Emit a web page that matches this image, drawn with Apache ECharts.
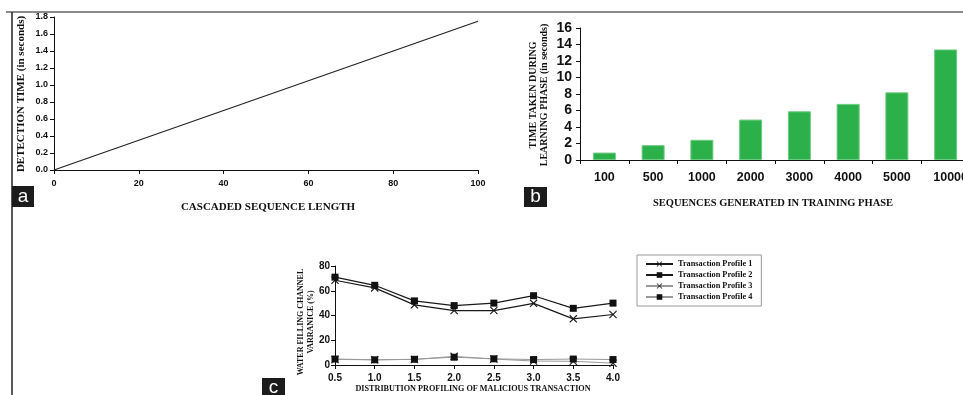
<!DOCTYPE html>
<html>
<head>
<meta charset="utf-8">
<script src="https://cdn.jsdelivr.net/npm/echarts@6/dist/echarts.min.js"></script>
<style>
html,body{margin:0;padding:0;background:#fff;}
#chart{width:963px;height:395px;}
</style>
</head>
<body>
<div id="chart"></div>
<script>
// Panel a: detection time vs cascaded sequence length
const aX = [0, 100];
const aY = [0, 1.75];
// Panel b: learning time
const bCategories = ['100', '500', '1000', '2000', '3000', '4000', '5000', '10000'];
const bValues = [0.9, 1.8, 2.45, 4.9, 5.9, 6.8, 8.2, 13.4];
// Panel c: water filling channel variance
const cX = [0.5, 1.0, 1.5, 2.0, 2.5, 3.0, 3.5, 4.0];
const cP1 = [68.5, 62.3, 48.6, 44.0, 44.0, 49.8, 37.3, 40.8];
const cP2 = [71.0, 64.4, 51.8, 48.0, 50.0, 56.0, 45.8, 50.0];
const cP3 = [4.5, 4.2, 4.5, 7.0, 4.8, 3.2, 3.0, 1.5];
const cP4 = [4.8, 4.2, 4.6, 6.3, 5.0, 4.4, 4.8, 4.4];
const cNames = ['Transaction Profile 1', 'Transaction Profile 2', 'Transaction Profile 3', 'Transaction Profile 4'];

const SANS = 'Liberation Sans';
const SERIF = 'Liberation Serif';
const XPATH = 'path://M0,1L1,0L5,4L9,0L10,1L6,5L10,9L9,10L5,6L1,10L0,9L4,5Z';

function zip(xs, ys){ return xs.map((x,i)=>[x, ys[i]]); }

function axisCommon(fontSize, margin){
  return {
    axisLine:{show:true, lineStyle:{color:'#111', width:1}},
    axisTick:{show:true, inside:false, length:4, lineStyle:{color:'#111', width:1}},
    axisLabel:{color:'#111', fontFamily:SANS, fontWeight:'bold', fontSize:fontSize, margin:margin},
    splitLine:{show:false}
  };
}
function fixed1(ax){ ax.axisLabel.formatter = v => Number(v).toFixed(1); return ax; }

const chart = echarts.init(document.getElementById('chart'), null, {renderer:'canvas'});

const bX = Object.assign(axisCommon(12.5, 11), {type:'category', gridIndex:1, data:bCategories,
  axisTick:{show:true, alignWithLabel:false, interval:0, length:4, lineStyle:{color:'#111'}}});
bX.axisLabel.interval = 0;
bX.axisLabel.hideOverlap = false;
bX.axisLabel.formatter = (v, i) => i === bCategories.length - 1 ? '{last|' + v + '}' : v;
bX.axisLabel.rich = {last:{fontFamily:SANS, fontWeight:'bold', fontSize:12.5, color:'#111', padding:[0,0,0,10]}};

const option = {
  animation:false,
  backgroundColor:'#ffffff',
  grid:[
    {left:54, top:17, width:424, height:153, containLabel:false, outerBoundsMode:'none'},
    {left:580, top:28, width:390, height:132, containLabel:false, outerBoundsMode:'none'},
    {left:335, top:266, width:278, height:99, containLabel:false, outerBoundsMode:'none'}
  ],
  xAxis:[
    Object.assign(axisCommon(9, 9), {type:'value', gridIndex:0, min:0, max:100, interval:20}),
    bX,
    fixed1(Object.assign(axisCommon(10, 8), {type:'value', gridIndex:2, min:0.5, max:4.0, interval:0.5}))
  ],
  yAxis:[
    fixed1(Object.assign(axisCommon(9, 6), {type:'value', gridIndex:0, min:0, max:1.8, interval:0.2})),
    Object.assign(axisCommon(14, 8), {type:'value', gridIndex:1, min:0, max:16, interval:2}),
    Object.assign(axisCommon(10, 5), {type:'value', gridIndex:2, min:0, max:80, interval:20})
  ],
  legend:{
    show:true,
    data:cNames,
    orient:'vertical',
    left:637, top:255,
    padding:[5,9,5,8],
    itemWidth:27, itemHeight:7, itemGap:3,
    borderColor:'#999', borderWidth:1,
    textStyle:{fontFamily:SERIF, fontWeight:'bold', fontSize:8.3, color:'#111'}
  },
  series:[
    {type:'line', xAxisIndex:0, yAxisIndex:0, data:zip(aX, aY), symbol:'none',
      lineStyle:{color:'#222', width:1.2}},
    {type:'bar', xAxisIndex:1, yAxisIndex:1, data:bValues, barWidth:23,
      itemStyle:{color:'#2bb04a', borderColor:'#6fcb82', borderWidth:1}},
    {name:cNames[0], type:'line', xAxisIndex:2, yAxisIndex:2, data:zip(cX, cP1),
      symbol:XPATH, symbolSize:8, color:'#1a1a1a',
      lineStyle:{color:'#1a1a1a', width:1.2}, itemStyle:{color:'#1a1a1a'}},
    {name:cNames[1], type:'line', xAxisIndex:2, yAxisIndex:2, data:zip(cX, cP2),
      symbol:'rect', symbolSize:7, color:'#1a1a1a',
      lineStyle:{color:'#1a1a1a', width:1.2}, itemStyle:{color:'#111'}},
    {name:cNames[2], type:'line', xAxisIndex:2, yAxisIndex:2, data:zip(cX, cP3),
      symbol:XPATH, symbolSize:8, color:'#222',
      lineStyle:{color:'#999', width:1}, itemStyle:{color:'#222'}},
    {name:cNames[3], type:'line', xAxisIndex:2, yAxisIndex:2, data:zip(cX, cP4),
      symbol:'rect', symbolSize:7, color:'#111',
      lineStyle:{color:'#999', width:1}, itemStyle:{color:'#111'}}
  ],
  graphic:[
    // frame lines
    {type:'line', shape:{x1:6, y1:12, x2:963, y2:12}, style:{stroke:'#8a8a8a', lineWidth:2}, silent:true},
    {type:'line', shape:{x1:12, y1:12, x2:12, y2:395}, style:{stroke:'#222', lineWidth:1.5}, silent:true},
    // panel labels
    {type:'rect', shape:{x:12, y:186, width:22, height:21}, style:{fill:'#1c1c1c'}},
    {type:'text', x:23, y:196.5, style:{text:'a', fill:'#fff', font:'19px ' + SANS, textAlign:'center', textVerticalAlign:'middle'}},
    {type:'rect', shape:{x:524, y:187, width:23, height:20}, style:{fill:'#1c1c1c'}},
    {type:'text', x:535.5, y:196.5, style:{text:'b', fill:'#fff', font:'19px ' + SANS, textAlign:'center', textVerticalAlign:'middle'}},
    {type:'rect', shape:{x:262, y:378, width:23, height:20}, style:{fill:'#1c1c1c'}},
    {type:'text', x:273.5, y:388, style:{text:'c', fill:'#fff', font:'19px ' + SANS, textAlign:'center', textVerticalAlign:'middle'}},
    // axis titles panel a
    {type:'text', x:268, y:207, style:{text:'CASCADED SEQUENCE LENGTH', fill:'#111', font:'bold 11px ' + SERIF, textAlign:'center', textVerticalAlign:'middle'}},
    {type:'text', x:21, y:94, rotation:Math.PI/2, style:{text:'DETECTION TIME (in seconds)', fill:'#111', font:'bold 11px ' + SERIF, textAlign:'center', textVerticalAlign:'middle'}},
    // panel b
    {type:'text', x:773, y:203, style:{text:'SEQUENCES GENERATED IN TRAINING PHASE', fill:'#111', font:'bold 10.5px ' + SERIF, textAlign:'center', textVerticalAlign:'middle'}},
    {type:'text', x:533, y:95, rotation:Math.PI/2, style:{text:'TIME TAKEN DURING', fill:'#111', font:'bold 10px ' + SERIF, textAlign:'center', textVerticalAlign:'middle'}},
    {type:'text', x:544, y:95, rotation:Math.PI/2, style:{text:'LEARNING PHASE (in seconds)', fill:'#111', font:'bold 10px ' + SERIF, textAlign:'center', textVerticalAlign:'middle'}},
    // panel c
    {type:'text', x:473, y:389, style:{text:'DISTRIBUTION PROFILING OF MALICIOUS TRANSACTION', fill:'#111', font:'bold 8.2px ' + SERIF, textAlign:'center', textVerticalAlign:'middle'}},
    {type:'text', x:301, y:322, rotation:Math.PI/2, style:{text:'WATER FILLING CHANNEL', fill:'#111', font:'bold 8px ' + SERIF, textAlign:'center', textVerticalAlign:'middle'}},
    {type:'text', x:311, y:322, rotation:Math.PI/2, style:{text:'VARRANICE (%)', fill:'#111', font:'bold 8px ' + SERIF, textAlign:'center', textVerticalAlign:'middle'}}
  ]
};
chart.setOption(option);
</script>
</body>
</html>
